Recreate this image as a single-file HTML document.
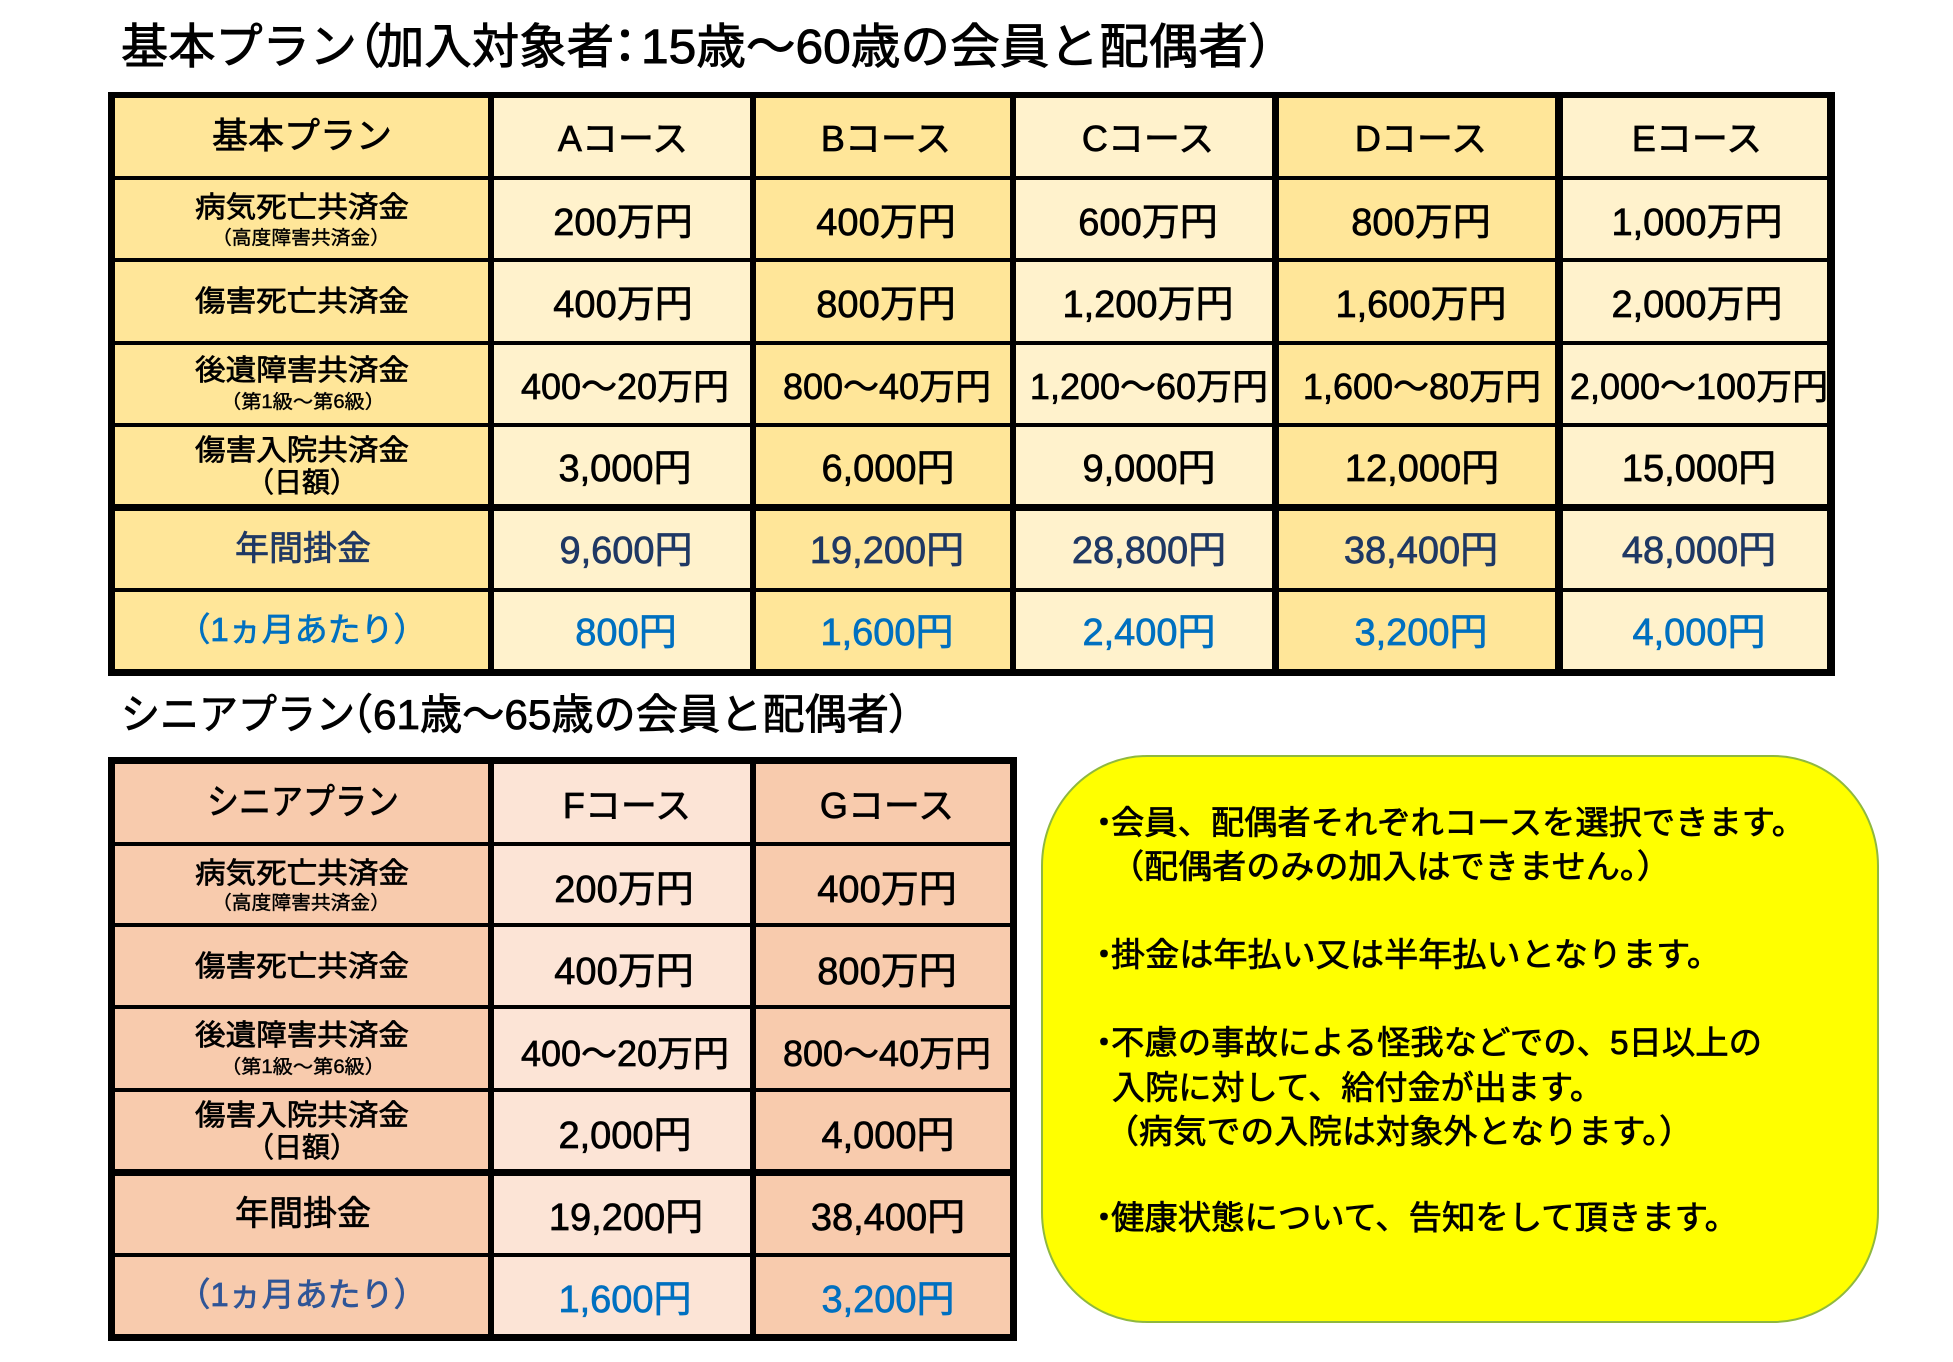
<!DOCTYPE html>
<html lang="ja">
<head>
<meta charset="utf-8">
<style>
  html,body{margin:0;padding:0;background:#fff;}
  svg{display:block;}
  text{font-family:"Liberation Sans","Noto Sans CJK JP",sans-serif;fill:#000;stroke:#000;stroke-width:0.7px;}
  .ttl{font-size:48px;stroke-width:0.9px;}
  .ttl2{font-size:42px;stroke-width:0.8px;}
  .hd{font-size:36px;text-anchor:middle;}
  .lb{font-size:29px;text-anchor:middle;}
  .sub{font-size:19px;text-anchor:middle;stroke-width:0.4px;}
  .day{font-size:28px;text-anchor:middle;}
  .v{font-size:38px;text-anchor:middle;}
  .v4{font-size:36px;text-anchor:middle;}
  .nv{fill:#1F3864;stroke:#1F3864;}
  .bl{fill:#0070C0;stroke:#0070C0;}
  .bl2{fill:#2F5597;stroke:#2F5597;}
  .bx{font-size:33px;}
  .bu{font-size:33px;text-anchor:middle;}
</style>
</head>
<body>
<svg width="1953" height="1362" viewBox="0 0 1953 1362" xmlns="http://www.w3.org/2000/svg">
  <rect x="0" y="0" width="1953" height="1362" fill="#fff"/>

  <!-- Main title -->
  <text class="ttl" x="121" y="63" textLength="236" lengthAdjust="spacingAndGlyphs">基本プラン</text>
  <text class="ttl" x="334" y="63">（</text>
  <text class="ttl" x="377" y="63" textLength="237" lengthAdjust="spacingAndGlyphs">加入対象者</text>
  <text class="ttl" x="625" y="63" text-anchor="middle">：</text>
  <text class="ttl" x="641" y="63" textLength="607" lengthAdjust="spacingAndGlyphs">15歳～60歳の会員と配偶者</text>
  <text class="ttl" x="1248" y="63">）</text>

  <!-- Main table backgrounds -->
  <rect x="108" y="92" width="383" height="584" fill="#FFE699"/>
  <rect x="491" y="92" width="262" height="584" fill="#FFF2CC"/>
  <rect x="753" y="92" width="260" height="584" fill="#FFE699"/>
  <rect x="1013" y="92" width="263" height="584" fill="#FFF2CC"/>
  <rect x="1276" y="92" width="283" height="584" fill="#FFE699"/>
  <rect x="1559" y="92" width="276" height="584" fill="#FFF2CC"/>

  <!-- Main table lines -->
  <g fill="#000">
    <rect x="108" y="92" width="7" height="584"/>
    <rect x="488" y="92" width="6" height="584"/>
    <rect x="750" y="92" width="6" height="584"/>
    <rect x="1010" y="92" width="6" height="584"/>
    <rect x="1272" y="92" width="7" height="584"/>
    <rect x="1555" y="92" width="8" height="584"/>
    <rect x="1827" y="92" width="8" height="584"/>
    <rect x="108" y="92" width="1727" height="6"/>
    <rect x="108" y="176" width="1727" height="4"/>
    <rect x="108" y="258" width="1727" height="4"/>
    <rect x="108" y="341" width="1727" height="4"/>
    <rect x="108" y="423" width="1727" height="4"/>
    <rect x="108" y="504" width="1727" height="7"/>
    <rect x="108" y="588" width="1727" height="4"/>
    <rect x="108" y="669" width="1727" height="7"/>
  </g>

  <!-- Main header row -->
  <text class="hd" x="302" y="148">基本プラン</text>
  <text class="hd" x="623" y="151">Aコース</text>
  <text class="hd" x="886" y="151">Bコース</text>
  <text class="hd" x="1148" y="151">Cコース</text>
  <text class="hd" x="1421" y="151">Dコース</text>
  <text class="hd" x="1697" y="151">Eコース</text>

  <!-- Row 2 -->
  <text class="lb" x="302" y="217" textLength="214" lengthAdjust="spacingAndGlyphs">病気死亡共済金</text>
  <text class="sub" x="301" y="244" textLength="178" lengthAdjust="spacingAndGlyphs">（高度障害共済金）</text>
  <text class="v" x="623" y="235">200万円</text>
  <text class="v" x="886" y="235">400万円</text>
  <text class="v" x="1148" y="235">600万円</text>
  <text class="v" x="1421" y="235">800万円</text>
  <text class="v" x="1697" y="235">1,000万円</text>

  <!-- Row 3 -->
  <text class="lb" x="302" y="311" textLength="214" lengthAdjust="spacingAndGlyphs">傷害死亡共済金</text>
  <text class="v" x="623" y="317">400万円</text>
  <text class="v" x="886" y="317">800万円</text>
  <text class="v" x="1148" y="317">1,200万円</text>
  <text class="v" x="1421" y="317">1,600万円</text>
  <text class="v" x="1697" y="317">2,000万円</text>

  <!-- Row 4 -->
  <text class="lb" x="302" y="380" textLength="214" lengthAdjust="spacingAndGlyphs">後遺障害共済金</text>
  <text class="sub" x="303" y="408" textLength="164" lengthAdjust="spacingAndGlyphs">（第1級～第6級）</text>
  <text class="v4" x="625" y="399">400～20万円</text>
  <text class="v4" x="887" y="399">800～40万円</text>
  <text class="v4" x="1149" y="399">1,200～60万円</text>
  <text class="v4" x="1422" y="399">1,600～80万円</text>
  <text class="v4" x="1699" y="399">2,000～100万円</text>

  <!-- Row 5 -->
  <text class="lb" x="302" y="460" textLength="214" lengthAdjust="spacingAndGlyphs">傷害入院共済金</text>
  <text class="day" x="302" y="492">（日額）</text>
  <text class="v" x="625" y="481">3,000円</text>
  <text class="v" x="888" y="481">6,000円</text>
  <text class="v" x="1149" y="481">9,000円</text>
  <text class="v" x="1422" y="481">12,000円</text>
  <text class="v" x="1699" y="481">15,000円</text>

  <!-- Row 6 -->
  <text class="hd nv" x="303" y="560" style="font-size:34px">年間掛金</text>
  <text class="v nv" x="626" y="563">9,600円</text>
  <text class="v nv" x="887" y="563">19,200円</text>
  <text class="v nv" x="1149" y="563">28,800円</text>
  <text class="v nv" x="1421" y="563">38,400円</text>
  <text class="v nv" x="1699" y="563">48,000円</text>

  <!-- Row 7 -->
  <text class="hd bl" x="302" y="641" style="font-size:33px">（1ヵ月あたり）</text>
  <text class="v bl" x="626" y="645">800円</text>
  <text class="v bl" x="887" y="645">1,600円</text>
  <text class="v bl" x="1149" y="645">2,400円</text>
  <text class="v bl" x="1421" y="645">3,200円</text>
  <text class="v bl" x="1699" y="645">4,000円</text>

  <!-- Senior title -->
  <text class="ttl2" x="121" y="729" textLength="234" lengthAdjust="spacingAndGlyphs">シニアプラン</text>
  <text class="ttl2" x="331" y="729">（</text>
  <text class="ttl2" x="373" y="729" textLength="516" lengthAdjust="spacingAndGlyphs">61歳～65歳の会員と配偶者</text>
  <text class="ttl2" x="888" y="729">）</text>

  <!-- Senior table backgrounds -->
  <rect x="108" y="757" width="383" height="584" fill="#F8CBAD"/>
  <rect x="491" y="757" width="262" height="584" fill="#FCE4D6"/>
  <rect x="753" y="757" width="264" height="584" fill="#F8CBAD"/>

  <!-- Senior table lines -->
  <g fill="#000">
    <rect x="108" y="757" width="7" height="584"/>
    <rect x="488" y="757" width="6" height="584"/>
    <rect x="750" y="757" width="6" height="584"/>
    <rect x="1010" y="757" width="7" height="584"/>
    <rect x="108" y="757" width="909" height="7"/>
    <rect x="108" y="842" width="909" height="4"/>
    <rect x="108" y="923" width="909" height="4"/>
    <rect x="108" y="1005" width="909" height="4"/>
    <rect x="108" y="1088" width="909" height="4"/>
    <rect x="108" y="1169" width="909" height="7"/>
    <rect x="108" y="1253" width="909" height="4"/>
    <rect x="108" y="1334" width="909" height="7"/>
  </g>

  <!-- Senior header -->
  <text class="hd" x="303" y="814" textLength="192" lengthAdjust="spacingAndGlyphs">シニアプラン</text>
  <text class="hd" x="627" y="818">Fコース</text>
  <text class="hd" x="887" y="818">Gコース</text>

  <!-- Senior row 2 -->
  <text class="lb" x="302" y="883" textLength="214" lengthAdjust="spacingAndGlyphs">病気死亡共済金</text>
  <text class="sub" x="301" y="909" textLength="178" lengthAdjust="spacingAndGlyphs">（高度障害共済金）</text>
  <text class="v" x="624" y="902">200万円</text>
  <text class="v" x="887" y="902">400万円</text>

  <!-- Senior row 3 -->
  <text class="lb" x="302" y="976" textLength="214" lengthAdjust="spacingAndGlyphs">傷害死亡共済金</text>
  <text class="v" x="624" y="984">400万円</text>
  <text class="v" x="887" y="984">800万円</text>

  <!-- Senior row 4 -->
  <text class="lb" x="302" y="1045" textLength="214" lengthAdjust="spacingAndGlyphs">後遺障害共済金</text>
  <text class="sub" x="303" y="1073" textLength="164" lengthAdjust="spacingAndGlyphs">（第1級～第6級）</text>
  <text class="v4" x="625" y="1066">400～20万円</text>
  <text class="v4" x="887" y="1066">800～40万円</text>

  <!-- Senior row 5 -->
  <text class="lb" x="302" y="1125" textLength="214" lengthAdjust="spacingAndGlyphs">傷害入院共済金</text>
  <text class="day" x="302" y="1157">（日額）</text>
  <text class="v" x="625" y="1148">2,000円</text>
  <text class="v" x="888" y="1148">4,000円</text>

  <!-- Senior row 6 -->
  <text class="hd" x="303" y="1225" style="font-size:34px">年間掛金</text>
  <text class="v" x="626" y="1230">19,200円</text>
  <text class="v" x="888" y="1230">38,400円</text>

  <!-- Senior row 7 -->
  <text class="hd bl2" x="302" y="1306" style="font-size:33px">（1ヵ月あたり）</text>
  <text class="v bl" x="625" y="1312">1,600円</text>
  <text class="v bl" x="888" y="1312">3,200円</text>

  <!-- Yellow note box -->
  <rect x="1042" y="756" width="836" height="566" rx="105" ry="110" fill="#FFFF00" stroke="#8FB83F" stroke-width="2"/>

  <text class="bu" x="1104" y="834">・</text>
  <text class="bx" x="1111" y="834" textLength="694" lengthAdjust="spacingAndGlyphs">会員、配偶者それぞれコースを選択できます。</text>
  <text class="bx" x="1110" y="878" textLength="561" lengthAdjust="spacingAndGlyphs">（配偶者のみの加入はできません。）</text>

  <text class="bu" x="1104" y="966">・</text>
  <text class="bx" x="1111" y="966" textLength="610" lengthAdjust="spacingAndGlyphs">掛金は年払い又は半年払いとなります。</text>

  <text class="bu" x="1104" y="1054">・</text>
  <text class="bx" x="1111" y="1054" textLength="651" lengthAdjust="spacingAndGlyphs">不慮の事故による怪我などでの、5日以上の</text>
  <text class="bx" x="1112" y="1099" textLength="491" lengthAdjust="spacingAndGlyphs">入院に対して、給付金が出ます。</text>
  <text class="bx" x="1105" y="1143" textLength="588" lengthAdjust="spacingAndGlyphs">（病気での入院は対象外となります。）</text>

  <text class="bu" x="1104" y="1229">・</text>
  <text class="bx" x="1111" y="1229" textLength="627" lengthAdjust="spacingAndGlyphs">健康状態について、告知をして頂きます。</text>
</svg>
</body>
</html>
